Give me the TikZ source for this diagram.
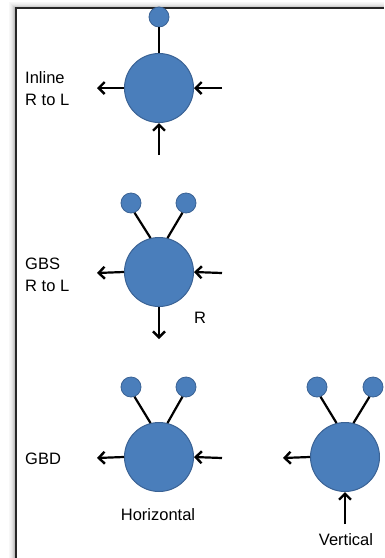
\documentclass[tikz,border=0pt]{standalone}
\usepackage{fontspec}
\setmainfont{Liberation Sans}
\usetikzlibrary{arrows.meta}
\definecolor{cblue}{RGB}{74,126,187}
\definecolor{cedge}{RGB}{58,98,148}
\begin{document}
\begin{tikzpicture}[x=1pt,y=-1pt,
  big/.style={circle,fill=cblue,draw=cedge,line width=1pt,minimum size=69pt,inner sep=0pt},
  small/.style={circle,fill=cblue,draw=cedge,line width=0.8pt,minimum size=20pt,inner sep=0pt},
  conn/.style={line width=2.2pt,black},
  arr/.style={line width=2.2pt,black,-{Straight Barb[length=6pt,width=12pt,line width=2.4pt]}},
  lbl/.style={font=\fontsize{16.5}{22}\selectfont,inner sep=0pt}]
\useasboundingbox (0,0) rectangle (384,558);
% shadow
\foreach \i/\o in {1/0.25,2/0.18,3/0.12,4/0.08,5/0.05,6/0.03}{
  \draw[black,opacity=\o,line width=1pt] (16-\i-1,558) -- (16-\i-1,8-\i) -- (384,8-\i);
}
% frame
\draw[line width=2.4pt,black!85] (16,558) -- (16,8) -- (384,8);

% --- Inline
\node[big] (b1) at (159,88) {};
\node[small] (s1) at (159,17) {};
\draw[conn] (s1) -- (b1);
\coordinate (l1) at (97,88);
\coordinate (r1) at (222,88);
\coordinate (d1) at (159,155);
\draw[arr] (b1.west) -- (l1);
\draw[arr] (r1) -- (b1.east);
\draw[arr] (d1) -- (b1.south);
\node[lbl,anchor=west,align=left] (t1) at (25,89) {Inline\\R to L};

% --- GBS
\node[big] (b2) at (159,272) {};
\node[small] (s2a) at (131,203) {};
\node[small] (s2b) at (186,203) {};
\draw[conn] (s2a.-70) -- (b2.104);
\draw[conn] (s2b.-110) -- (b2.76);
\coordinate (l2) at (97,273);
\coordinate (r2) at (222,273);
\coordinate (d2) at (159,339);
\draw[arr] (b2.west) -- (l2);
\draw[arr] (r2) -- (b2.east);
\draw[arr] (b2.south) -- (d2);
\node[lbl] (R) at (200,318) {R};
\node[lbl,anchor=west,align=left] (t2) at (25,275) {GBS\\R to L};

% --- GBD horizontal
\node[big] (b3) at (159,457) {};
\node[small] (s3a) at (131,387) {};
\node[small] (s3b) at (186,387) {};
\draw[conn] (s3a.-70) -- (b3.104);
\draw[conn] (s3b.-110) -- (b3.76);
\coordinate (l3) at (97,458);
\coordinate (r3) at (222,458);
\draw[arr] (b3.west) -- (l3);
\draw[arr] (r3) -- (b3.east);
\node[lbl,anchor=west] (t3) at (25,459) {GBD};
\node[lbl] (h3) at (158,515) {Horizontal};

% --- GBD vertical
\node[big] (b4) at (345,457) {};
\node[small] (s4a) at (317,387) {};
\node[small] (s4b) at (373,387) {};
\draw[conn] (s4a.-70) -- (b4.104);
\draw[conn] (s4b.-110) -- (b4.76);
\coordinate (l4) at (283,458);
\coordinate (d4) at (345,524);
\draw[arr] (b4.west) -- (l4);
\draw[arr] (d4) -- (b4.south);
\node[lbl] (v4) at (346,540) {Vertical};
\end{tikzpicture}
\end{document}
